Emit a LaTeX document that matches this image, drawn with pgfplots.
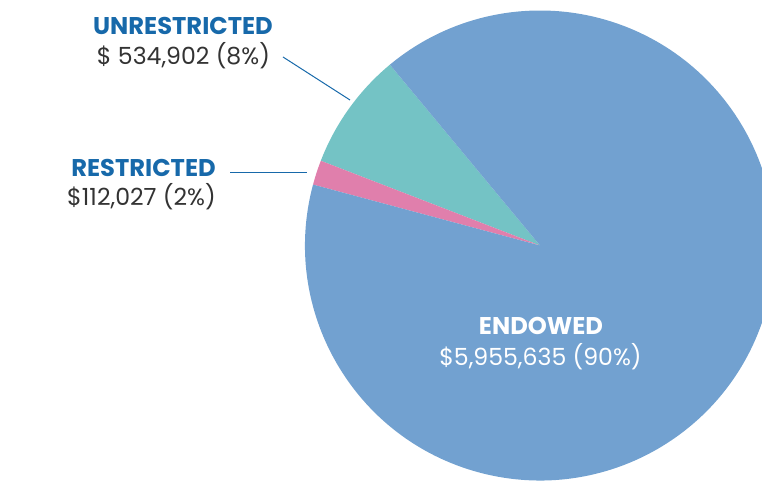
\documentclass[border=0pt]{standalone}
\usepackage{pgfplots}
\pgfplotsset{compat=1.18}
\usepackage{pgfplotstable}
\usepackage{fontspec}
\setmainfont{Poppins}

\definecolor{endowed}{HTML}{72A1D0}
\definecolor{unrestr}{HTML}{74C3C5}
\definecolor{restr}{HTML}{E07FAC}
\definecolor{headblue}{HTML}{1769AA}
\definecolor{valgray}{HTML}{333333}

% fund balances, in thousands of dollars
\pgfplotstableread{
label        value
Unrestricted 534.902
Restricted   112.027
Endowed      5955.635
}\funds

\begin{document}
\begin{tikzpicture}
\pgfplotstablegetelem{0}{value}\of\funds \let\vU\pgfplotsretval
\pgfplotstablegetelem{1}{value}\of\funds \let\vR\pgfplotsretval
\pgfplotstablegetelem{2}{value}\of\funds \let\vE\pgfplotsretval
\pgfmathsetmacro\total{\vU+\vR+\vE}
\pgfmathsetmacro\angA{129.7}
\pgfmathsetmacro\angB{\angA+360*(\vU/\total)}
\pgfmathsetmacro\angC{\angB+360*(\vR/\total)}
\pgfmathsetmacro\angD{\angC+360*(\vE/\total)}
\begin{axis}[
    x=0.5pt, y=0.5pt,
    xmin=0, xmax=762, ymin=0, ymax=481,
    scale only axis,
    hide axis,
    clip=true,
    clip bounding box=upper bound,
]
\path (axis cs:0,0) rectangle (axis cs:762,481);
\fill[unrestr] (axis cs:540,235.5) -- ++(\angA:117.5pt) arc[start angle=\angA, end angle=\angB, radius=117.5pt] -- cycle;
\fill[restr] (axis cs:540,235.5) -- ++(\angB:117.5pt) arc[start angle=\angB, end angle=\angC, radius=117.5pt] -- cycle;
\fill[endowed] (axis cs:540,235.5) -- ++(\angC:117.5pt) arc[start angle=\angC, end angle=\angD, radius=117.5pt] -- cycle;

\draw[headblue, line width=0.5pt] (axis cs:283,424) -- (axis cs:350,381);
\draw[headblue, line width=0.5pt] (axis cs:230,308.3) -- (axis cs:307,308.3);

\node[anchor=base, inner sep=0pt, font=\fontsize{12.1}{13}\selectfont\bfseries, text=headblue] at (axis cs:183,446) {UNRESTRICTED};
\node[anchor=base, inner sep=0pt, font=\fontsize{11.8}{13}\selectfont, text=valgray] at (axis cs:183.5,416) {\$ 534,902 (8\%)};
\node[anchor=base, inner sep=0pt, font=\fontsize{12.1}{13}\selectfont\bfseries, text=headblue] at (axis cs:143.5,304.3) {RESTRICTED};
\node[anchor=base, inner sep=0pt, font=\fontsize{11.8}{13}\selectfont, text=valgray] at (axis cs:141.5,275) {\$112,027 (2\%)};
\node[anchor=base, inner sep=0pt, font=\fontsize{12.1}{13}\selectfont\bfseries, text=white] at (axis cs:541,146) {ENDOWED};
\node[anchor=base, inner sep=0pt, font=\fontsize{11.8}{13}\selectfont, text=white] at (axis cs:540.5,115) {\$5,955,635 (90\%)};
\end{axis}
\end{tikzpicture}
\end{document}
